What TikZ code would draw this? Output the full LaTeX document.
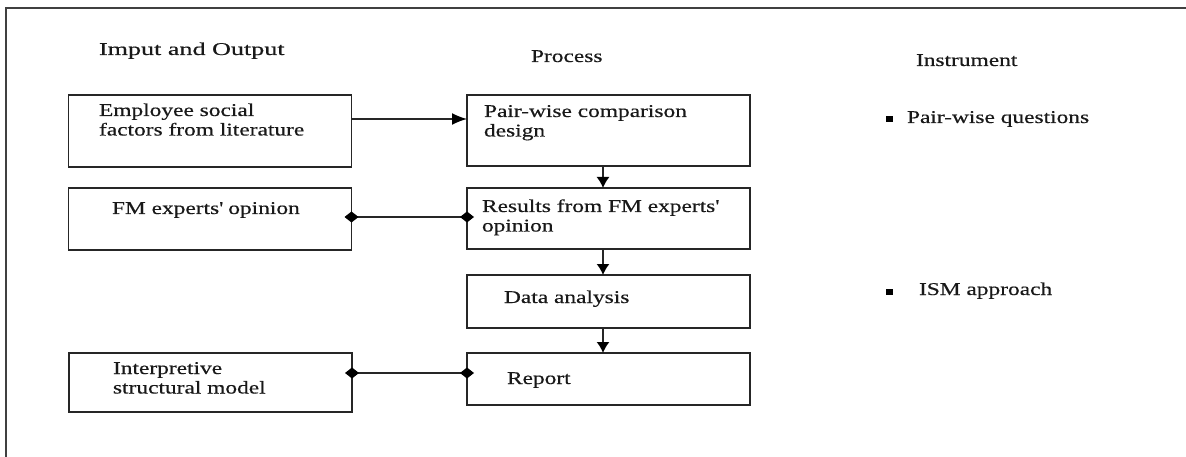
\documentclass[tikz,border=0pt]{standalone}
\usepackage{fontspec}
\setmainfont[FakeStretch=1.3,FakeBold=0.4]{Liberation Serif}
\newfontfamily\hdfont[FakeStretch=1.45,FakeBold=0.4]{Liberation Serif}
\usetikzlibrary{arrows.meta,calc}
\newcommand{\ml}[1]{\begin{tabular}[t]{@{}l@{}}#1\end{tabular}}
\begin{document}
\begin{tikzpicture}[x=1pt,y=-1pt,
  box/.style={draw=black!85,line width=1.6pt,inner sep=0pt,outer sep=0pt,minimum width=283pt},
  txt/.style={anchor=base west,inner sep=0pt,outer sep=0pt,font=\fontsize{18}{19.5}\selectfont,text=black!90},
  hd/.style={txt,font=\fontsize{18}{19.5}\hdfont},
  conn/.style={draw=black!85,line width=1.5pt},
  harr/.style={conn,-{Latex[length=15pt,width=12pt,color=black]}},
  varr/.style={conn,-{Latex[length=11pt,width=13pt,color=black]}},
  dia/.style={conn,{Diamond[length=14pt,width=11pt,color=black]}-{Diamond[length=14pt,width=11pt,color=black]},shorten <=-7pt,shorten >=-7pt}]
\useasboundingbox (0,0) rectangle (1186,457);
% frame
\draw[black!75,line width=1.3pt] (6,457) -- (6,8) -- (1186,8);
% headers
\node[hd] (h1) at (99,55) {Imput and Output};
\node[txt] (h2) at (531,62) {Process};
\node[txt] (h3) at (916,66) {Instrument};
% boxes
\node[box,minimum height=72pt] (emp) at (210,131) {};
\node[box,minimum height=62pt] (fm) at (210,219) {};
\node[box,minimum height=59pt] (isr) at (210.5,382.5) {};
\node[box,minimum height=71pt] (pw) at (608.5,130.5) {};
\node[box,minimum height=61pt] (res) at (608.5,218.5) {};
\node[box,minimum height=53pt] (dat) at (608.5,301.5) {};
\node[box,minimum height=52pt] (rep) at (608.5,379) {};
% texts
\node[txt] (t1) at (99,116) {\ml{Employee social\\factors from literature}};
\node[txt] (t2) at (112,214) {FM experts\textquotesingle{} opinion};
\node[txt] (t3) at (113,374) {\ml{Interpretive\\structural model}};
\node[txt] (t4) at (484,117) {\ml{Pair-wise comparison\\design}};
\node[txt] (t5) at (482,212) {\ml{Results from FM experts\textquotesingle\\opinion}};
\node[txt] (t6) at (504,303) {Data analysis};
\node[txt] (t7) at (507,384) {Report};
% instruments
\fill[black] (886,116.5) rectangle (893,122.5);
\node[txt] (i1) at (907,123) {Pair-wise questions};
\fill[black] (886,288.5) rectangle (893,294.5);
\node[txt] (i2) at (919,295) {ISM approach};
% connectors
\draw[harr] ([yshift=12pt]emp.east) -- ([yshift=11.5pt]pw.west);
\draw[varr] ([xshift=-5.5pt]pw.south) -- ([xshift=-5.5pt]res.north);
\draw[varr] ([xshift=-5.5pt]res.south) -- ([xshift=-5.5pt]dat.north);
\draw[varr] ([xshift=-5.5pt]dat.south) -- ([xshift=-5.5pt]rep.north);
\draw[dia] ([yshift=2pt]fm.east) -- ([yshift=1.5pt]res.west);
\draw[dia] ([yshift=9.5pt]isr.east) -- ([yshift=6pt]rep.west);
\end{tikzpicture}
\end{document}
